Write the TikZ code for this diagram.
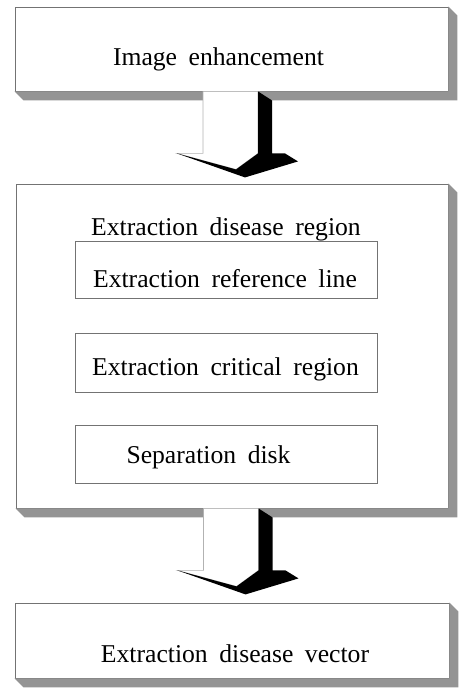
\documentclass[tikz,border=0pt]{standalone}
\usepackage{fontspec}
\setmainfont{Liberation Serif}[WordSpace=1.8]
\usetikzlibrary{calc,positioning}
\tikzset {
  every node/.style={font=\fontsize{14.6}{18}\selectfont},
  box/.style={draw=black!55,line width=.5pt,fill=white,inner sep=0pt},
  boxtext/.style={anchor=base,inner sep=0pt},
  slab/.style={fill=black!42},
  downarrow/.pic={
    \fill[white,draw=black!30,line width=.3pt] (-28.5,0) -- (26.5,0) -- (26.5,62)
      -- (4.5,78) -- (-54.5,62) -- (-28.5,62) -- cycle;
    \fill[black] (26.5,0) -- (40.5,9) -- (40.5,62) -- (53.5,62) -- (66.5,70)
      -- (13.5,86) -- (-54.5,62) -- (4.5,78) -- (26.5,62) -- cycle;
  },
}

\begin{document}
\begin{tikzpicture}[x=0.02cm,y=-0.02cm]
      \useasboundingbox (0,0) rectangle (459,693);

      \node[box,minimum width=8.66cm,minimum height=1.68cm] (enh) at (231.5,49) {};
      \node[box,minimum width=8.64cm,minimum height=6.48cm] (region) at (232,346) {};
      \node[box,minimum width=8.68cm,minimum height=1.5cm] (vec) at (232,640.5) {};

      \foreach \n in {enh,region,vec}
        \fill[slab] (\n.north east) -- ++(9,9) -- ($(\n.south east)+(9,9)$)
          -- ($(\n.south west)+(9,9)$) -- (\n.south west) -- (\n.south east) -- cycle;

      \pic at (enh.south) {downarrow};
      \pic at (region.south) {downarrow};

      \node[box,minimum width=6.04cm,minimum height=1.14cm] (refline) at (226,269.5) {};
      \node[box,minimum width=6.04cm,minimum height=1.18cm] (critical) at (226,362.5) {};
      \node[box,minimum width=6.04cm,minimum height=1.16cm] (sepdisk) at (226,454) {};

      \node[boxtext] (enhtxt) at (218.5,65) {Image enhancement};
      \node[boxtext] (regiontxt) at (226,235) {Extraction disease region};
      \node[boxtext] (reflinetxt) at (225,287) {Extraction reference line};
      \node[boxtext] (criticaltxt) at (225.5,375) {Extraction critical region};
      \node[boxtext] (sepdisktxt) at (208.5,463) {Separation disk};
      \node[boxtext] (vectxt) at (235,662) {Extraction disease vector};
    \end{tikzpicture}
\end{document}
